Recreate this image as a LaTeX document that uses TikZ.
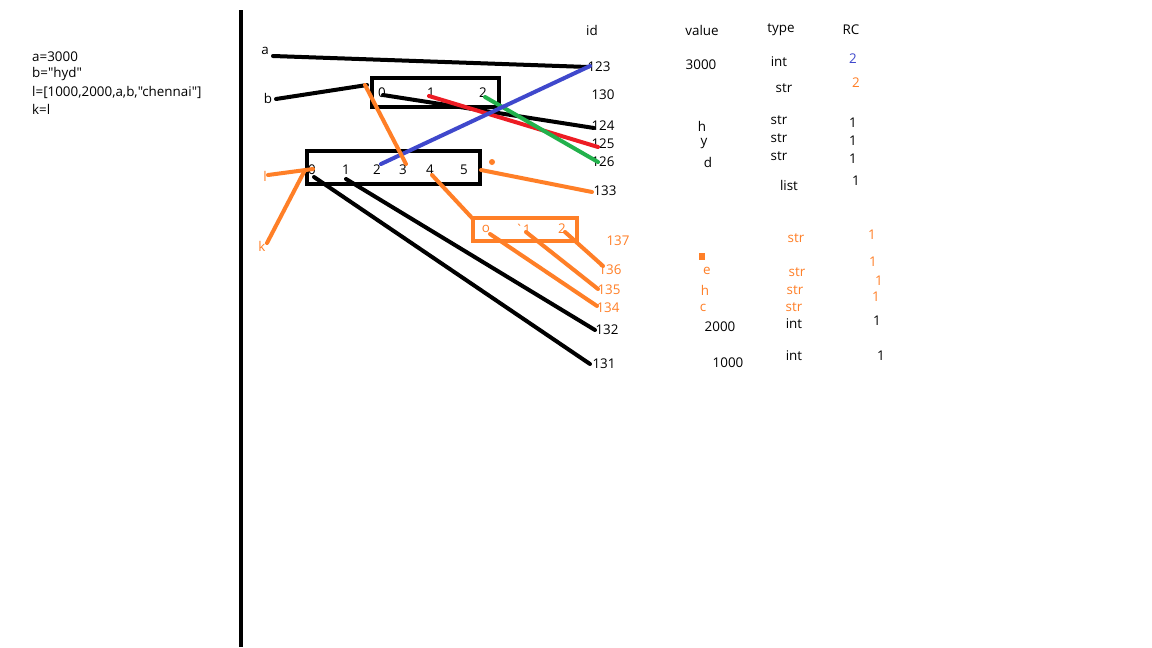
\documentclass[tikz,border=0pt]{standalone}
\usepackage{fontspec}
\setmainfont[Ligatures=TeXOff]{Open Sans}
\definecolor{porange}{HTML}{FF7F27}
\definecolor{pred}{HTML}{ED1C24}
\definecolor{pgreen}{HTML}{22B14C}
\definecolor{pblue}{HTML}{3F48CC}
\begin{document}
\begin{tikzpicture}[x=1pt,y=-1pt,
  txt/.style={inner sep=0pt,font=\fontsize{13.4}{16}\selectfont},
  otxt/.style={txt,text=porange},
  stroke/.style={line width=4pt,line cap=round},
  bx/.style={draw,line width=4pt}]
\useasboundingbox[fill=white] (0,0) rectangle (1152,648);
% divider
\draw[line width=4pt] (241,10) coordinate (d1) -- (241,647) coordinate (d2);
% code
\node[txt,anchor=west] (c1) at (32,57) {a=3000};
\node[txt,anchor=west] (c2) at (32,74) {b="hyd"};
\node[txt,anchor=west] (c3) at (32,92) {l=[1000,2000,a,b,"chennai"]};
\node[txt,anchor=west] (c4) at (32,109) {k=l};
% headers
\node[txt] (hid) at (592,30) {id};
\node[txt] (hval) at (702,30) {value};
\node[txt] (htype) at (781,30) {type};
\node[txt] (hrc) at (851,30) {RC};
% variable labels
\node[txt] (va) at (265,51) {a};
\node[txt] (vb) at (268,98) {b};
\node[otxt] (vl) at (265,176) {l};
\node[otxt] (vk) at (262,246) {k};
% boxes
\draw[bx] (372,78) rectangle (499,107);
\node[txt] (b1i0) at (382,93) {0};
\node[txt] (b1i1) at (431,93) {1};
\node[txt] (b1i2) at (483,93) {2};
\draw[bx] (307,151) rectangle (480,184);
\node[txt] (b2i0) at (312,170) {0};
\node[txt] (b2i1) at (346,170) {1};
\node[txt] (b2i2) at (377,170) {2};
\node[txt] (b2i3) at (403,170) {3};
\node[txt] (b2i4) at (430,170) {4};
\node[txt] (b2i5) at (464,170) {5};
\draw[bx,porange] (473,218) rectangle (577,241);
\node[otxt] (b3i0) at (486,229) {o};
\node[otxt] (b3i1) at (523,229) {`1};
\node[otxt] (b3i2) at (562,229) {2};
% ids
\node[txt] (i123) at (599,67) {123};
\node[txt] (i130) at (603,95) {130};
\node[txt] (i124) at (603,126) {124};
\node[txt] (i125) at (603,144) {125};
\node[txt] (i126) at (603,162) {126};
\node[txt] (i133) at (605,191) {133};
\node[otxt] (i137) at (618,241) {137};
\node[otxt] (i136) at (610,270) {136};
\node[otxt] (i135) at (609,290) {135};
\node[otxt] (i134) at (608,308) {134};
\node[txt] (i132) at (607,330) {132};
\node[txt] (i131) at (604,364) {131};
% values
\node[txt] (v3000) at (701,65) {3000};
\node[txt] (vh) at (702,126) {h};
\node[txt] (vy) at (704,144) {y};
\node[txt] (vd) at (708,162) {d};
\fill[porange] (699,253) rectangle (705,260);
\node[otxt] (ve) at (707,271) {e};
\node[otxt] (vh2) at (705,290) {h};
\node[otxt] (vc) at (703,308) {c};
\node[txt] (v2000) at (720,327) {2000};
\node[txt] (v1000) at (728,363) {1000};
% types
\node[txt] (t1) at (779,62) {int};
\node[txt] (t2) at (784,88) {str};
\node[txt] (t3) at (779,120) {str};
\node[txt] (t4) at (779,138) {str};
\node[txt] (t5) at (779,156) {str};
\node[txt] (t6) at (789,185) {list};
\node[otxt] (t7) at (796,238) {str};
\node[otxt] (t8) at (797,272) {str};
\node[otxt] (t9) at (795,290) {str};
\node[otxt] (t10) at (794,307) {str};
\node[txt] (t11) at (794,324) {int};
\node[txt] (t12) at (794,356) {int};
% RC
\node[txt,text=pblue] (r1) at (853,59) {2};
\node[otxt] (r2) at (856,83) {2};
\node[txt] (r3) at (853,123) {1};
\node[txt] (r4) at (853,141) {1};
\node[txt] (r5) at (853,159) {1};
\node[txt] (r6) at (856,181) {1};
\node[otxt] (r7) at (872,235) {1};
\node[otxt] (r8) at (873,262) {1};
\node[otxt] (r9) at (879,281) {1};
\node[otxt] (r10) at (876,297) {1};
\node[txt] (r11) at (877,321) {1};
\node[txt] (r12) at (881,356) {1};
% connector end points
\coordinate (pa1) at (273,56); \coordinate (pa2) at (588,67);
\coordinate (pb1) at (276,99); \coordinate (pb2) at (367,85);
\coordinate (p01) at (383,95); \coordinate (p02) at (594,128);
\coordinate (p11) at (429,96); \coordinate (p12) at (598,147);
\coordinate (p21) at (485,97); \coordinate (p22) at (598,162);
\coordinate (pl2a) at (381,164); \coordinate (pl2b) at (590,66);
\coordinate (po1) at (365,85); \coordinate (po2) at (406,164);
\coordinate (pl1) at (268,175); \coordinate (pl2) at (313,169);
\coordinate (pk1) at (267,243); \coordinate (pk2) at (305,170);
\coordinate (p51) at (481,170); \coordinate (p52) at (592,192);
\coordinate (p41) at (432,175); \coordinate (p42) at (473,219);
\coordinate (pz1) at (314,177); \coordinate (pz2) at (590,364);
\coordinate (py1) at (346,179); \coordinate (py2) at (595,330);
\coordinate (q01) at (490,234); \coordinate (q02) at (597,306);
\coordinate (q11) at (526,232); \coordinate (q12) at (598,289);
\coordinate (q21) at (565,232); \coordinate (q22) at (603,266);
% connectors
\draw[stroke] (pa1) -- (pa2);
\draw[stroke] (pb1) -- (pb2);
\draw[stroke] (p01) -- (p02);
\draw[stroke,pred] (p11) -- (p12);
\draw[stroke,pgreen] (p21) -- (p22);
\draw[stroke,pblue] (pl2a) -- (pl2b);
\draw[stroke,porange] (po1) -- (po2);
\draw[stroke,porange] (pl1) -- (pl2);
\draw[stroke,porange] (pk1) -- (pk2);
\draw[stroke,porange] (p51) -- (p52);
\fill[porange] (492,162) circle (3);
\draw[stroke,porange] (p41) -- (p42);
\draw[stroke] (pz1) -- (pz2);
\draw[stroke] (py1) -- (py2);
\draw[stroke,porange] (q01) -- (q02);
\draw[stroke,porange] (q11) -- (q12);
\draw[stroke,porange] (q21) -- (q22);
\end{tikzpicture}
\end{document}
